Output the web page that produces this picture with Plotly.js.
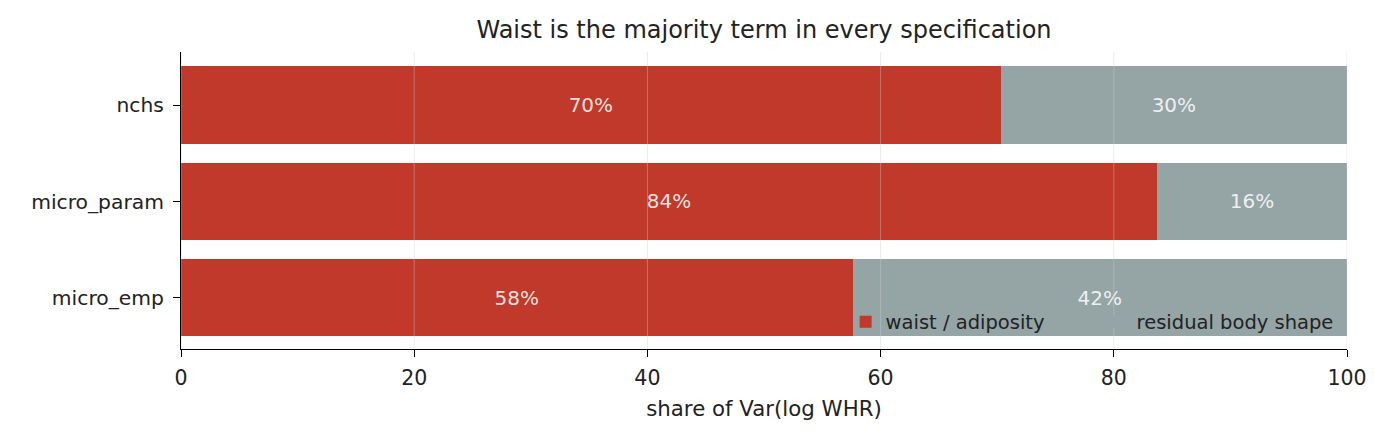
<!DOCTYPE html>
<html>
<head>
<meta charset="utf-8">
<script src="https://cdn.plot.ly/plotly-3.0.1.min.js"></script>
<style>html,body{margin:0;padding:0;background:#fff;}#chart{width:1374px;height:448px;}</style>
</head>
<body>
<div id="chart"></div>
<script>
const categories = ["micro_emp", "micro_param", "nchs"];
const waistShare = [57.6, 83.7, 70.3];
const residualShare = [42.4, 16.3, 29.7];
const xTicks = [0, 20, 40, 60, 80, 100];

const font = "DejaVu Sans, sans-serif";
const labelFont = {family: font, size: 20, color: "rgba(255,255,255,0.85)"};

const traces = [
  {
    type: "bar", orientation: "h", name: "waist / adiposity",
    y: categories, x: waistShare, width: 0.8,
    marker: {color: "#c0392b", line: {width: 0}},
    texttemplate: "%{x:.0f}%", textposition: "inside", insidetextanchor: "middle",
    textfont: labelFont, hoverinfo: "skip", cliponaxis: false
  },
  {
    type: "bar", orientation: "h", name: "residual body shape",
    y: categories, x: residualShare, width: 0.8,
    marker: {color: "#95a5a6", line: {width: 0}},
    texttemplate: "%{x:.0f}%", textposition: "inside", insidetextanchor: "middle",
    textfont: labelFont, hoverinfo: "skip", cliponaxis: false
  }
];

const gridShapes = xTicks.map(v => ({
  type: "line", xref: "x", yref: "paper", x0: v, x1: v, y0: 0, y1: 1,
  layer: "above", line: {color: "rgba(204,204,204,0.4)", width: 1}
}));

const layout = {
  width: 1374, height: 448,
  margin: {l: 181, r: 27, t: 52, b: 99, autoexpand: false},
  paper_bgcolor: "#ffffff", plot_bgcolor: "#ffffff",
  barmode: "stack",
  font: {family: font, size: 20, color: "#222222"},
  title: {text: "Waist is the majority term in every specification", xref: "paper", x: 0.5, xanchor: "center",
          yref: "container", y: 0.933, yanchor: "middle", font: {family: font, size: 24, color: "#222222"}},
  xaxis: {
    range: [0, 100], tickvals: xTicks, ticktext: xTicks.map(String), automargin: false,
    showgrid: false, zeroline: false, showline: true, linecolor: "#000000", linewidth: 1,
    ticks: "outside", ticklen: 7, tickcolor: "#000000", ticklabelstandoff: 3,
    tickfont: {family: font, size: 20.5, color: "#222222"},
    title: {text: "share of Var(log WHR)", font: {family: font, size: 21.3, color: "#222222"}, standoff: 12}
  },
  yaxis: {
    range: [-0.53, 2.55], showgrid: false, zeroline: false, automargin: false,
    showline: true, linecolor: "#000000", linewidth: 1,
    ticks: "outside", ticklen: 7, tickcolor: "#000000", ticklabelstandoff: 5,
    tickfont: {family: font, size: 20.3, color: "#222222"}
  },
  shapes: gridShapes,
  showlegend: true,
  legend: {orientation: "h", x: 0.570, xanchor: "left", y: 0.091, yanchor: "middle",
           bgcolor: "rgba(0,0,0,0)", font: {family: font, size: 19.5, color: "#222222"},
           traceorder: "normal", entrywidth: 206, entrywidthmode: "pixels"}
};

Plotly.newPlot("chart", traces, layout, {displayModeBar: false, staticPlot: true});
</script>
</body>
</html>
